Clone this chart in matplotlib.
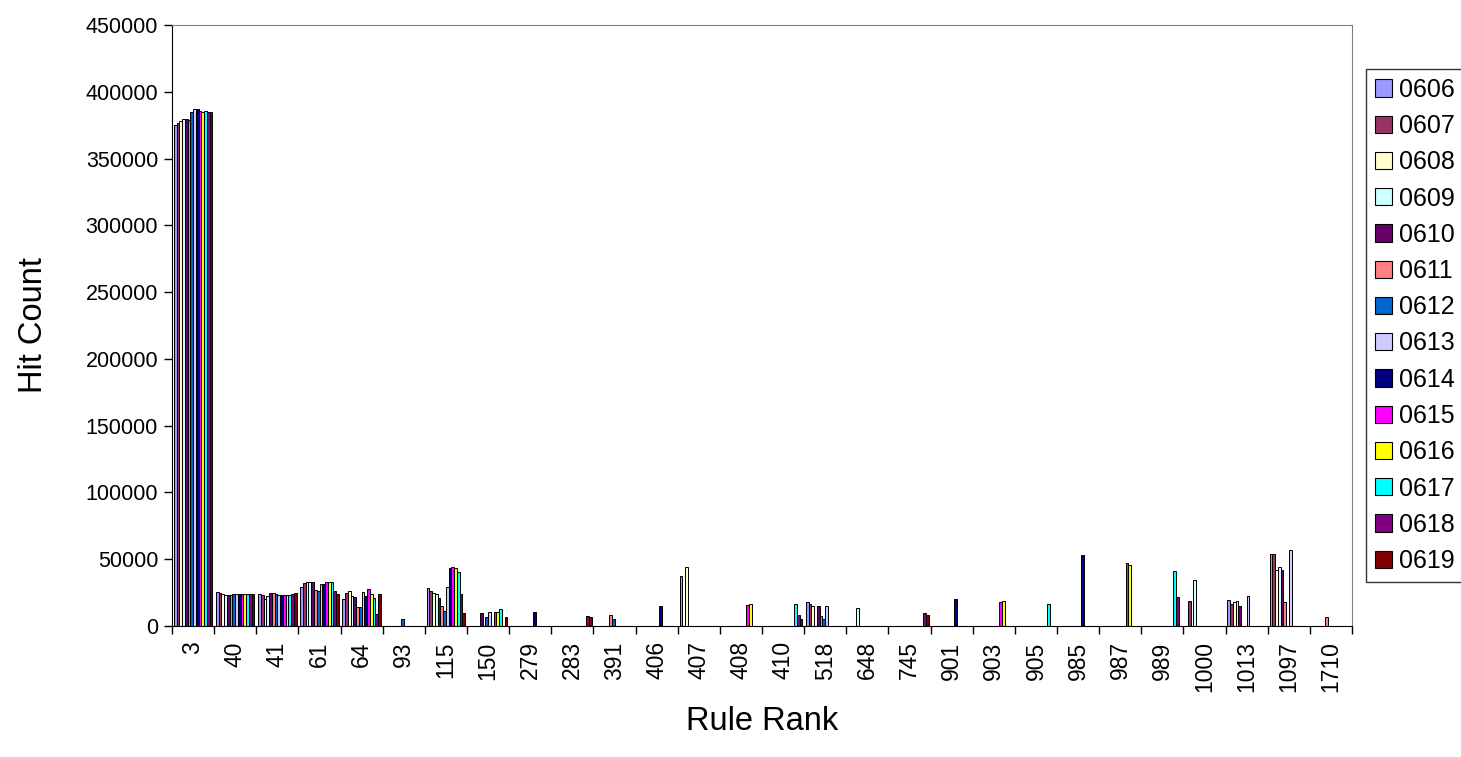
import numpy as np
import matplotlib
matplotlib.use('Agg')
import matplotlib.pyplot as plt
from matplotlib.patches import Patch

plt.rcParams['font.family'] = ['Liberation Sans', 'DejaVu Sans']

# rule ranks on the x axis
rules = ['3', '40', '41', '61', '64', '93', '115', '150', '279', '283', '391', '406', '407', '408',
         '410', '518', '648', '745', '901', '903', '905', '985', '987', '989', '1000', '1013', '1097', '1710']

# hit counts per day, one value per rule
d0606 = [374900, 25100, 24200, 29500, 20500, 0, 28200, 0, 0, 0, 0, 0, 37300, 0,
         0, 17700, 0, 0, 0, 0, 0, 0, 0, 0, 0, 19400, 53900, 0]
d0607 = [376400, 24900, 23200, 32300, 24700, 0, 26200, 0, 0, 0, 0, 0, 0, 0,
         0, 16600, 0, 0, 0, 0, 0, 0, 0, 0, 18600, 16400, 53900, 0]
d0608 = [378400, 23600, 20000, 32800, 26000, 0, 24900, 0, 0, 0, 0, 0, 44200, 0,
         0, 14900, 0, 0, 0, 0, 0, 0, 0, 0, 0, 17700, 42000, 0]
d0609 = [379400, 22900, 22500, 32800, 22500, 0, 23700, 0, 0, 0, 0, 0, 0, 0,
         0, 0, 13700, 0, 0, 0, 0, 0, 0, 0, 34800, 18600, 44000, 0]
d0610 = [379400, 22900, 25000, 32800, 21700, 0, 20700, 9900, 0, 0, 0, 0, 0, 0,
         0, 15300, 0, 0, 0, 0, 0, 0, 0, 0, 0, 14700, 41800, 0]
d0611 = [378900, 22900, 24500, 27200, 14200, 0, 15000, 0, 0, 0, 8400, 0, 0, 0,
         0, 7200, 0, 0, 0, 0, 0, 0, 0, 0, 0, 0, 17700, 6500]
d0612 = [384700, 23600, 23600, 26200, 14200, 5200, 11500, 6500, 0, 0, 5400, 0, 0, 0,
         0, 5500, 0, 0, 0, 0, 0, 0, 0, 0, 0, 0, 0, 0]
d0613 = [387400, 23600, 23000, 31200, 25500, 0, 29000, 10700, 0, 0, 0, 0, 0, 0,
         0, 15300, 0, 0, 0, 0, 0, 0, 0, 0, 0, 22400, 57200, 0]
d0614 = [386900, 23600, 23000, 31700, 22500, 0, 43200, 0, 10700, 0, 0, 14900, 0, 0,
         0, 0, 0, 0, 19900, 0, 0, 53500, 0, 0, 0, 0, 0, 0]
d0615 = [385900, 23600, 23000, 32800, 27500, 0, 44400, 10700, 0, 0, 0, 0, 0, 15700,
         0, 0, 0, 0, 0, 17900, 0, 0, 47000, 0, 0, 0, 0, 0]
d0616 = [385200, 23600, 23000, 32800, 24300, 0, 43200, 10700, 0, 0, 0, 0, 0, 16600,
         0, 0, 0, 0, 0, 18600, 0, 0, 46000, 0, 0, 0, 0, 0]
d0617 = [385400, 23600, 23000, 32800, 21300, 0, 40200, 12700, 0, 0, 0, 0, 0, 0,
         16600, 0, 0, 0, 0, 0, 16600, 0, 0, 41000, 0, 0, 0, 0]
d0618 = [384700, 23600, 24200, 26000, 9300, 0, 24000, 0, 0, 7500, 0, 0, 0, 0,
         8200, 0, 0, 9700, 0, 0, 0, 0, 0, 21900, 0, 0, 0, 0]
d0619 = [384700, 23600, 25000, 24200, 24300, 0, 9500, 6500, 0, 6800, 0, 0, 0, 0,
         5200, 0, 0, 8400, 0, 0, 0, 0, 0, 0, 0, 0, 0, 0]

days = ['0606', '0607', '0608', '0609', '0610', '0611', '0612',
        '0613', '0614', '0615', '0616', '0617', '0618', '0619']
series = [d0606, d0607, d0608, d0609, d0610, d0611, d0612,
          d0613, d0614, d0615, d0616, d0617, d0618, d0619]
colors = ['#9999FF', '#993366', '#FFFFCC', '#CCFFFF', '#660066', '#FF8080', '#0066CC',
          '#CCCCFF', '#000080', '#FF00FF', '#FFFF00', '#00FFFF', '#800080', '#800000']

fig = plt.figure(figsize=(14.61, 7.57), dpi=100)
ax = fig.add_axes([172 / 1461, 1 - 626 / 757, 1180 / 1461, 601 / 757])

x = np.arange(len(rules))
n = len(series)
group = 0.915
w = group / n
for i, vals in enumerate(series):
    ax.bar(x - group / 2 + w * (i + 0.5), vals, width=w, color=colors[i],
           edgecolor='black', linewidth=0.7, label=days[i])

ax.set_xlim(-0.5, len(rules) - 0.5)
ax.set_ylim(0, 450000)
ax.set_yticks(np.arange(0, 450001, 50000))
ax.ticklabel_format(style='plain', axis='y')

# labels sit in the middle of each group, tick marks between groups
ax.set_xticks(x)
ax.set_xticklabels(rules, rotation=90, fontsize=16.5)
ax.set_xticks(np.arange(-0.5, len(rules)), minor=True)
ax.tick_params(axis='x', which='major', length=0, pad=11)
ax.tick_params(axis='x', which='minor', length=6, width=1, direction='out')
ax.tick_params(axis='y', length=6, width=1, labelsize=15.5, pad=4)

for side in ['top', 'right']:
    ax.spines[side].set_color('#808080')
for side in ['left', 'bottom']:
    ax.spines[side].set_color('black')

ax.set_xlabel('Rule Rank', fontsize=23.5, labelpad=10)
ax.set_ylabel('Hit Count', fontsize=23.5, labelpad=26)

# legend box to the right of the plot
handles = [Patch(facecolor=c, edgecolor='black', linewidth=0.8) for c in colors]
leg = fig.legend(handles, days, loc='upper left', bbox_to_anchor=(1366 / 1461, 1 - 69 / 757),
                 borderaxespad=0, fontsize=18, frameon=True, fancybox=False,
                 edgecolor='black', handlelength=0.68, handleheight=0.68, handletextpad=0.3,
                 labelspacing=0.49, borderpad=0.35)
leg.get_frame().set_linewidth(1)

fig.savefig('out.png', dpi=100)
